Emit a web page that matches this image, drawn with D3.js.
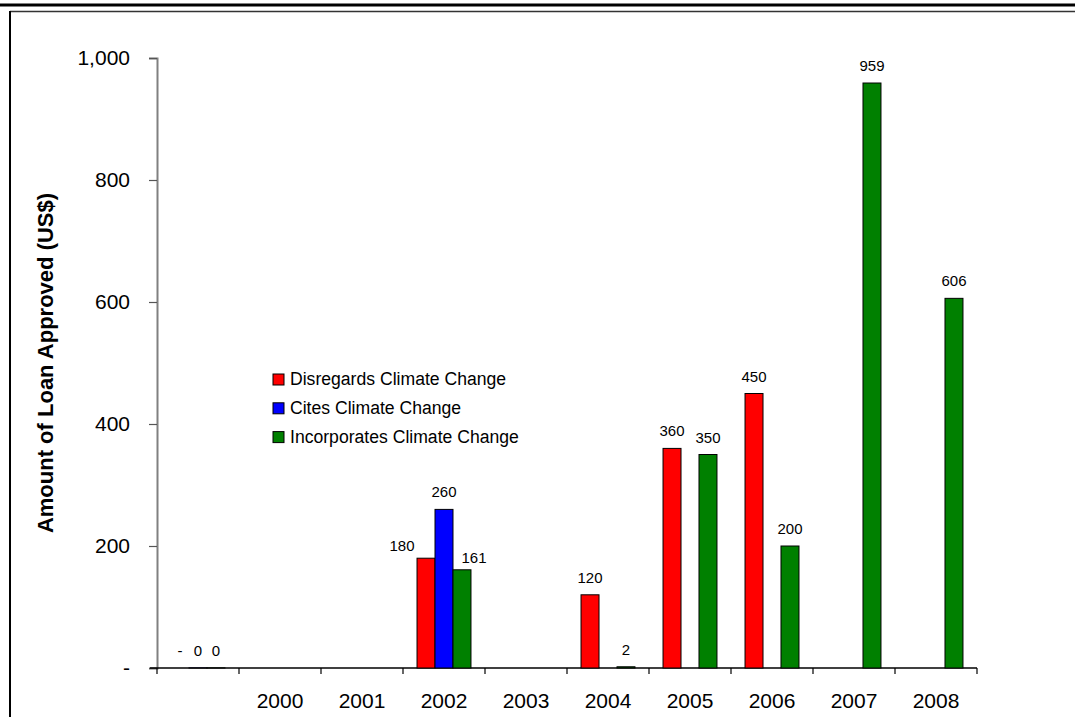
<!DOCTYPE html>
<html>
<head>
<meta charset="utf-8">
<script src="https://cdn.jsdelivr.net/npm/d3@7"></script>
<style>
  html, body { margin: 0; padding: 0; background: #fff; }
  svg { display: block; font-family: "Liberation Sans", Arial, sans-serif; }
</style>
</head>
<body>
<svg id="chart" width="1075" height="717"></svg>
<script>
// Loan amounts approved per year, split by how the project treats climate change
const categories = ["", "2000", "2001", "2002", "2003", "2004", "2005", "2006", "2007", "2008"];
const seriesNames = ["Disregards Climate Change", "Cites Climate Change", "Incorporates Climate Change"];
const disregards   = [0,   null, null, 180, null, 120, 360, 450, null, null];
const cites        = [0.2, null, null, 260, null, null, null, null, null, null];
const incorporates = [0.2, null, null, 161, null, 2,   350, 200, 959, 606];
const yTicks = [0, 200, 400, 600, 800, 1000];
const colors = ["#ff0000", "#0000ff", "#008000"];

const seriesValues = [disregards, cites, incorporates];

const svg = d3.select("#chart");

// Frame lines
svg.append("line").attr("x1", 0).attr("x2", 1075).attr("y1", 5).attr("y2", 5)
  .attr("stroke", "#000").attr("stroke-width", 3);
svg.append("line").attr("x1", 10).attr("x2", 1075).attr("y1", 11.5).attr("y2", 11.5)
  .attr("stroke", "#333").attr("stroke-width", 1.5);
svg.append("line").attr("x1", 10).attr("x2", 10).attr("y1", 11).attr("y2", 717)
  .attr("stroke", "#000").attr("stroke-width", 2);

// Scales
const x0 = d3.scaleBand().domain(categories).range([157, 977]).paddingInner(0).paddingOuter(0);
const x1 = d3.scaleBand().domain(seriesNames).range([0, x0.bandwidth()]).paddingInner(0).paddingOuter(0.78);
const y = d3.scaleLinear().domain([0, 1000]).range([668, 58]);

const fmt = v => v === 0 ? "-" : d3.format(",.0f")(v);

// Y axis
const yAxis = d3.axisLeft(y).tickValues(yTicks).tickFormat(fmt).tickSizeOuter(0).tickSize(8).tickPadding(19);
const gy = svg.append("g").attr("transform", "translate(157,0)").call(yAxis);
gy.select(".domain").attr("stroke", "#808080").attr("stroke-width", 2);
gy.selectAll(".tick line").attr("stroke", "#555").attr("stroke-width", 1.2);
gy.selectAll(".tick text").attr("font-size", 21).attr("fill", "#000")
  .attr("font-family", "'Liberation Sans', Arial, sans-serif");

// X axis
const boundaries = categories.map(c => x0(c)).concat([x0(categories[categories.length - 1]) + x0.bandwidth()]);
svg.append("line").attr("x1", 150).attr("x2", 977).attr("y1", 668).attr("y2", 668)
  .attr("stroke", "#000").attr("stroke-width", 1.5);
svg.append("g").selectAll("line").data(boundaries).join("line")
  .attr("x1", d => d).attr("x2", d => d).attr("y1", 668).attr("y2", 674)
  .attr("stroke", "#000").attr("stroke-width", 1.2);
svg.append("g").selectAll("text").data(categories).join("text")
  .attr("x", d => x0(d) + x0.bandwidth() / 2)
  .attr("y", 708)
  .attr("text-anchor", "middle")
  .attr("font-size", 21)
  .attr("fill", "#000")
  .text(d => d);

// Y axis title
svg.append("text")
  .attr("transform", "translate(53,363) rotate(-90)")
  .attr("text-anchor", "middle")
  .attr("font-size", 22)
  .attr("font-weight", "bold")
  .attr("fill", "#000")
  .text("Amount of Loan Approved (US$)");

// Bars
const points = [];
categories.forEach((c, i) => {
  seriesNames.forEach((s, j) => {
    const v = seriesValues[j][i];
    if (v !== null && v !== undefined) points.push({ cat: c, series: s, idx: j, value: v });
  });
});

svg.append("g").selectAll("rect").data(points).join("rect")
  .attr("x", d => x0(d.cat) + x1(d.series))
  .attr("y", d => y(d.value))
  .attr("width", x1.bandwidth())
  .attr("height", d => y(0) - y(d.value))
  .attr("fill", d => colors[d.idx])
  .attr("stroke", "#000")
  .attr("stroke-width", 1);

// Value labels; the two outer 2002 labels sit beside the tall middle bar
const labelShift = {
  "2002|Disregards Climate Change": { dx: -24, dy: 5 },
  "2002|Incorporates Climate Change": { dx: 12, dy: 5 }
};
svg.append("g").selectAll("text").data(points).join("text")
  .attr("x", d => x0(d.cat) + x1(d.series) + x1.bandwidth() / 2 + ((labelShift[d.cat + "|" + d.series] || {}).dx || 0))
  .attr("y", d => y(d.value) - 12 + ((labelShift[d.cat + "|" + d.series] || {}).dy || 0))
  .attr("text-anchor", "middle")
  .attr("font-size", 15)
  .attr("fill", "#000")
  .text(d => fmt(d.value));

// Legend
const legend = svg.append("g").attr("transform", "translate(273,374)");
const items = legend.selectAll("g").data(seriesNames).join("g")
  .attr("transform", (d, i) => `translate(0,${i * 28.8})`);
items.append("rect")
  .attr("x", 0).attr("y", 0).attr("width", 11).attr("height", 11)
  .attr("fill", (d, i) => colors[i]).attr("stroke", "#000").attr("stroke-width", 1);
items.append("text")
  .attr("x", 17).attr("y", 11)
  .attr("font-size", 17.6)
  .attr("fill", "#000")
  .text(d => d);
</script>
</body>
</html>
